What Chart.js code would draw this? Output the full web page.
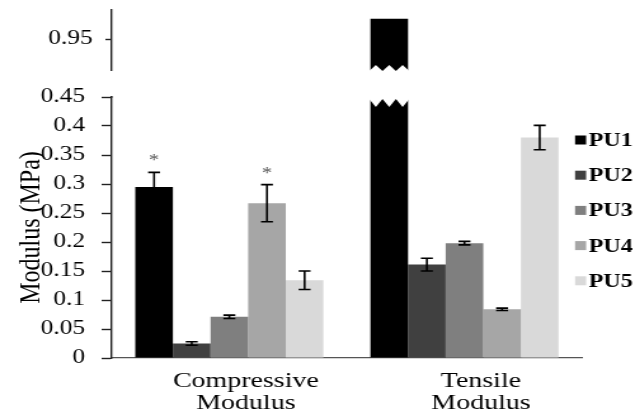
<!DOCTYPE html>
<html>
<head>
<meta charset="utf-8">
<script src="https://cdn.jsdelivr.net/npm/chart.js@4.4.1/dist/chart.umd.min.js"></script>
<style>
  html, body { margin: 0; padding: 0; background: #fff; overflow: hidden; }
  /* the original figure is stretched sideways, so the whole chart is too */
  #wrap { position: relative; width: 503px; height: 416px; transform: scaleX(1.27); transform-origin: 0 0; }
</style>
</head>
<body>
<div id="wrap"><canvas id="chart"></canvas></div>
<script>
// ===== Data =====
const categories = [["Compressive", "Modulus"], ["Tensile", "Modulus"]];
const seriesNames = ["PU1", "PU2", "PU3", "PU4", "PU5"];
const seriesColors = ["#000000", "#404040", "#7f7f7f", "#a6a6a6", "#d9d9d9"];

const pu1 = [0.295, 0.985];
const pu2 = [0.025, 0.161];
const pu3 = [0.071, 0.198];
const pu4 = [0.267, 0.084];
const pu5 = [0.134, 0.380];

const pu1Err = [0.025, null];
const pu2Err = [0.003, 0.011];
const pu3Err = [0.003, 0.003];
const pu4Err = [0.032, 0.002];
const pu5Err = [0.016, 0.021];

const pu1Sig = ["*", ""];
const pu2Sig = ["", ""];
const pu3Sig = ["", ""];
const pu4Sig = ["*", ""];
const pu5Sig = ["", ""];

const lowerRange = [0, 0.45];
const lowerTicks = [0, 0.05, 0.1, 0.15, 0.2, 0.25, 0.3, 0.35, 0.4, 0.45];
const upperRange = [0.85, 1.0];
const upperTicks = [0.95];

const values = [pu1, pu2, pu3, pu4, pu5];
const errors = [pu1Err, pu2Err, pu3Err, pu4Err, pu5Err];
const marks = [pu1Sig, pu2Sig, pu3Sig, pu4Sig, pu5Sig];

const SERIF = "'Liberation Serif', 'Times New Roman', serif";
const LOWER_MAX = lowerRange[1];

// ===== Datasets =====
// every series lives on the lower axis (each bar is clipped to its own panel)
const datasets = seriesNames.map((name, i) => ({
  label: name,
  data: values[i],
  backgroundColor: seriesColors[i],
  stack: name,
  yAxisID: "y",
  errors: errors[i],
  marks: marks[i],
}));

// values above the break are repeated on the upper axis, same slot as their series
seriesNames.forEach((name, i) => {
  if (!values[i].some((v) => v > LOWER_MAX)) return;
  datasets.push({
    label: name,
    data: values[i].map((v) => (v > LOWER_MAX ? v : null)),
    backgroundColor: seriesColors[i],
    stack: name,
    yAxisID: "y2",
    base: 0,
    broken: true,
  });
});

// ===== Plugins =====
const axisBreak = {
  id: "axisBreak",
  afterDatasetsDraw(chart) {
    const { ctx } = chart;
    const upper = chart.scales.y2;
    const lower = chart.scales.y;
    const gapTop = upper.bottom - 26;
    const gapBottom = lower.top + 2;
    ctx.save();
    ctx.fillStyle = "#fff";
    // gap in the axis line
    ctx.fillRect(upper.right - 3, gapTop, 6, lower.top - gapTop - 1);
    // zigzag cut through the tall bar
    chart.data.datasets.forEach((ds, di) => {
      if (!ds.broken) return;
      chart.getDatasetMeta(di).data.forEach((bar, i) => {
        if (ds.data[i] == null) return;
        const l = bar.x - bar.width / 2 - 1;
        const r = bar.x + bar.width / 2 + 1;
        const w = r - l;
        ctx.beginPath();
        ctx.moveTo(l, gapTop);
        for (let k = 0; k < 3; k++) {
          ctx.lineTo(l + (w * (k + 0.5)) / 3, gapTop - 6);
          ctx.lineTo(l + (w * (k + 1)) / 3, gapTop);
        }
        ctx.lineTo(r, gapBottom);
        for (let k = 3; k > 0; k--) {
          ctx.lineTo(l + (w * (k - 0.5)) / 3, gapBottom + 8);
          ctx.lineTo(l + (w * (k - 1)) / 3, gapBottom);
        }
        ctx.closePath();
        ctx.fill();
      });
    });
    ctx.restore();
  },
};

const errorBars = {
  id: "errorBars",
  afterDatasetsDraw(chart) {
    const { ctx } = chart;
    ctx.save();
    ctx.strokeStyle = "#000";
    ctx.lineWidth = 1.6;
    ctx.fillStyle = "#555";
    ctx.font = "16px " + SERIF;
    ctx.textAlign = "center";
    chart.data.datasets.forEach((ds, di) => {
      if (!ds.errors) return;
      const meta = chart.getDatasetMeta(di);
      const yScale = chart.scales[ds.yAxisID];
      ds.data.forEach((v, i) => {
        if (v == null || v > yScale.max) return;
        const bar = meta.data[i];
        const e = ds.errors[i] || 0;
        const top = yScale.getPixelForValue(v + e);
        if (e > 0) {
          const bot = yScale.getPixelForValue(v - e);
          const half = 4.7;
          ctx.beginPath();
          ctx.moveTo(bar.x, top);
          ctx.lineTo(bar.x, bot);
          ctx.moveTo(bar.x - half, top);
          ctx.lineTo(bar.x + half, top);
          ctx.moveTo(bar.x - half, bot);
          ctx.lineTo(bar.x + half, bot);
          ctx.stroke();
        }
        if (ds.marks && ds.marks[i]) ctx.fillText(ds.marks[i], bar.x, top - 7);
      });
    });
    ctx.restore();
  },
};

const sideLegend = {
  id: "sideLegend",
  afterDraw(chart) {
    const { ctx } = chart;
    const boxX = 452.8, textX = 463.5, firstY = 140, rowGap = 35.2;
    ctx.save();
    ctx.font = "bold 19px " + SERIF;
    ctx.textBaseline = "middle";
    ctx.textAlign = "left";
    chart.data.datasets.filter((ds) => !ds.broken).forEach((ds, i) => {
      const y = firstY + i * rowGap;
      ctx.fillStyle = ds.backgroundColor;
      ctx.fillRect(boxX, y - 4.5, 8.7, 9);
      ctx.fillStyle = "#000";
      ctx.fillText(ds.label, textX, y + 1);
    });
    ctx.restore();
  },
};

const fitY = (s) => { s.width = 88; s.paddingTop = 0; s.paddingBottom = 0; };

// ===== Chart =====
new Chart(document.getElementById("chart"), {
  type: "bar",
  data: { labels: categories, datasets },
  plugins: [axisBreak, errorBars, sideLegend],
  options: {
    responsive: true,
    maintainAspectRatio: false,
    animation: false,
    layout: { padding: { top: 10, right: 44.7, left: 0, bottom: 0 } },
    datasets: { bar: { barPercentage: 1.0, categoryPercentage: 0.8 } },
    plugins: { legend: { display: false }, tooltip: { enabled: false } },
    scales: {
      x: {
        grid: { display: false, drawTicks: false },
        border: { display: true, color: "#555", width: 1.2 },
        ticks: {
          color: "#000",
          font: { family: SERIF, size: 22, lineHeight: 1 },
          padding: 12,
          labelOffset: 13,
          maxRotation: 0,
          autoSkip: false,
        },
        afterFit: (s) => { s.height = 58; s.paddingLeft = 0; s.paddingRight = 0; },
      },
      y: {
        position: "left",
        stack: "modulus",
        stackWeight: 3,
        stacked: false,
        min: lowerRange[0],
        max: lowerRange[1],
        afterBuildTicks: (s) => { s.ticks = lowerTicks.map((v) => ({ value: v })); },
        ticks: {
          autoSkip: false,
          color: "#000",
          padding: 13,
          font: { family: SERIF, size: 20 },
          callback: (v) => String(v),
        },
        grid: {
          display: true,
          drawOnChartArea: false,
          drawTicks: true,
          tickLength: 8,
          color: "#222",
          tickColor: "#222",
          tickWidth: 1.4,
        },
        border: { color: "#222", width: 1.4 },
        title: {
          display: true,
          text: "Modulus (MPa)",
          color: "#000",
          font: { family: SERIF, size: 24 },
          padding: { top: 10, bottom: 0 },
        },
        afterFit: fitY,
      },
      y2: {
        position: "left",
        stack: "modulus",
        stackWeight: 1,
        stacked: false,
        min: upperRange[0],
        max: upperRange[1],
        afterBuildTicks: (s) => { s.ticks = upperTicks.map((v) => ({ value: v })); },
        ticks: {
          autoSkip: false,
          color: "#000",
          padding: 10,
          font: { family: SERIF, size: 20 },
          callback: (v) => String(v),
        },
        grid: {
          display: true,
          drawOnChartArea: false,
          drawTicks: true,
          tickLength: 5,
          color: "#222",
          tickColor: "#222",
          tickWidth: 1.4,
        },
        border: { color: "#222", width: 1.4 },
        afterFit: fitY,
      },
    },
  },
});
</script>
</body>
</html>
